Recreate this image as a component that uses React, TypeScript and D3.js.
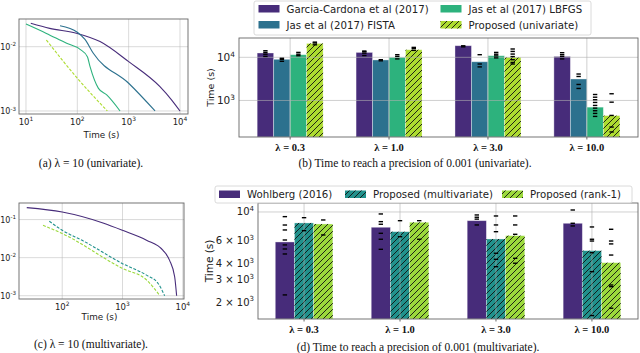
import React, { useEffect, useRef } from 'react';
import * as d3 from 'd3';

// (a) univariate convergence, lambda = 10  [time (s), objective gap]
const uniGarciaCurve: [number, number][] = [[12.4, 0.0231], [29, 0.0193], [100, 0.0161], [277, 0.012], [1000, 0.00585], [4070, 0.00239], [6900, 0.00148], [10000, 0.001]];
const uniFistaCurve: [number, number][] = [[46, 0.0212], [100, 0.0168], [141, 0.013], [205, 0.0079], [1000, 0.0027], [3270, 0.001]];
const uniLbfgsCurve: [number, number][] = [[10, 0.0225], [25, 0.0161], [62, 0.0113], [113, 0.0091], [157, 0.007], [177, 0.0049], [258, 0.00225], [374, 0.00178], [680, 0.001]];
const uniProposedCurve: [number, number][] = [[25, 0.0127], [100, 0.00323], [385, 0.001]];

// (c) multivariate convergence, lambda = 10
const multiWohlbergCurve: [number, number][] = [[25.8, 0.206], [100, 0.158], [475, 0.0815], [1000, 0.0524], [2500, 0.0288], [4700, 0.0155], [6040, 0.0085], [7330, 0.00315], [7900, 0.001]];
const multiProposedCurve: [number, number][] = [[61, 0.0902], [100, 0.0524], [224, 0.0274], [1000, 0.00696], [2500, 0.00347], [3900, 0.0021], [5000, 0.001]];
const multiRank1Curve: [number, number][] = [[48, 0.0709], [100, 0.043], [1000, 0.0052], [2500, 0.0026], [4170, 0.001]];

// bar charts
const lambdas = ['λ = 0.3', 'λ = 1.0', 'λ = 3.0', 'λ = 10.0'];

// (b) univariate, time to reach 0.001
const uniGarcia = [12600, 13000, 18600, 10500];
const uniFista = [9000, 8700, 7900, 3150];
const uniLbfgs = [11500, 10000, 10900, 700];
const uniProposed = [21000, 15000, 10000, 445];
const uniGarciaRuns = [[10500, 11800, 13000, 14200], [11000, 12500, 13500, 14000], [17500, 18500], [9200, 10500, 11500, 12800]];
const uniFistaRuns = [[8100, 9000, 9500], [8300, 8800], [11500, 7000, 6000], [4100, 3600, 2350, 1900]];
const uniLbfgsRuns = [[10900, 11800, 13000], [9200, 10500, 11500], [9700, 10800, 11800, 13000], [1375, 1190, 1040, 900, 767, 664, 578, 501, 427]];
const uniProposedRuns = [[19500, 21500, 22500], [14500, 16000, 17000], [15600, 13700, 11900, 10400, 8800, 7600, 7000], [1430, 913, 450, 242, 186]];

// (d) multivariate, time to reach 0.001
const multiWohlberg = [5850, 7610, 8560, 8170];
const multiProposed = [8220, 7030, 6170, 5010];
const multiRank1 = [8070, 8320, 6550, 4040];
const multiWohlbergRuns = [[9200, 7920, 7250, 6060, 5550, 5160, 4720, 2270], [9650, 8410, 8030, 6830, 6140, 5130], [9480, 9100, 8800, 7930], [10360, 8170, 7790]];
const multiProposedRuns = [[9030, 7160], [8560, 6430], [9310, 7930, 7030, 4780, 4290, 3760], [7650, 6140, 5950, 4830, 3440, 1570]];
const multiRank1Runs = [[8670, 6630], [8560, 6140], [9310, 7930, 6710, 4370, 4000], [7340, 5950, 5650, 4630, 2710, 2630, 1790]];

const PURPLE = '#472c7a';
const TEAL = '#2c718e';
const GREEN = '#2db27d';
const LIME = '#addc30';
const TEAL2 = '#21918c';
const LIME2 = '#9bd93c';

const SANS = 'DejaVu Sans';
const SERIF = 'Liberation Serif';
const FRAME = '#666';
const GRID = '#b0b0b0';

type Sel = d3.Selection<SVGGElement, unknown, null, undefined>;

// "10" with a superscript, optionally prefixed ("6 × 10^3")
function powLabel(g: Sel, x: number, y: number, pre: string, exp: string, size: number, anchor: string) {
  const t = g.append('text').attr('x', x).attr('y', y).attr('text-anchor', anchor)
    .attr('font-family', SANS).attr('font-size', size).attr('fill', '#222');
  t.append('tspan').text(pre + '10');
  t.append('tspan').attr('dy', -size * 0.42).attr('font-size', size * 0.7).text(exp);
}

export default function App() {
  const ref = useRef<SVGSVGElement>(null);

  useEffect(() => {
    const svg = d3.select(ref.current);
    svg.selectAll('*').remove();

    const defs = svg.append('defs');
    const hatch = defs.append('pattern').attr('id', 'hatch').attr('patternUnits', 'userSpaceOnUse')
      .attr('width', 6).attr('height', 6);
    hatch.append('path').attr('d', 'M-1,1 l2,-2 M0,6 l6,-6 M5,7 l2,-2')
      .attr('stroke', '#111').attr('stroke-width', 0.9);

    // ---------- line panels ----------
    function linePanel(id: string, box: number[], xDom: number[], yDom: number[], xTicks: number[], yTicks: number[],
      series: { pts: [number, number][], color: string, dash: boolean }[], labelY: number) {
      const [x0, y0, x1, y1] = box;
      const g = svg.append('g') as unknown as Sel;
      const x = d3.scaleLog().domain(xDom).range([x0, x1]);
      const y = d3.scaleLog().domain(yDom).range([y1, y0]);
      defs.append('clipPath').attr('id', id).append('rect').attr('x', x0).attr('y', y0).attr('width', x1 - x0).attr('height', y1 - y0);

      g.selectAll('.gx').data(xTicks).enter().append('line')
        .attr('x1', d => x(d)).attr('x2', d => x(d)).attr('y1', y0).attr('y2', y1)
        .attr('stroke', GRID).attr('stroke-opacity', 0.6).attr('stroke-width', 0.8);
      g.selectAll('.gy').data(yTicks).enter().append('line')
        .attr('y1', d => y(d)).attr('y2', d => y(d)).attr('x1', x0).attr('x2', x1)
        .attr('stroke', GRID).attr('stroke-opacity', 0.6).attr('stroke-width', 0.8);

      const line = d3.line<[number, number]>().x(d => x(d[0])).y(d => y(d[1])).curve(d3.curveMonotoneX);
      series.forEach(s => {
        g.append('path').attr('d', line(s.pts)!).attr('fill', 'none').attr('stroke', s.color)
          .attr('stroke-width', 1.1).attr('stroke-dasharray', s.dash ? '3,1.6' : null)
          .attr('clip-path', `url(#${id})`);
      });

      g.append('rect').attr('x', x0).attr('y', y0).attr('width', x1 - x0).attr('height', y1 - y0)
        .attr('fill', 'none').attr('stroke', FRAME).attr('stroke-width', 0.9);

      xTicks.forEach(t => powLabel(g, x(t), y1 + 11, '', String(Math.round(Math.log10(t))), 8.5, 'middle'));
      yTicks.forEach(t => powLabel(g, 16, y(t) + 3, '', String(Math.round(Math.log10(t))), 8, 'end'));
      g.append('text').attr('x', (x0 + x1) / 2 - 2).attr('y', labelY).attr('text-anchor', 'middle')
        .attr('font-family', SANS).attr('font-size', 8.8).attr('fill', '#222').text('Time (s)');
    }

    linePanel('clipA', [19, 19, 188, 114], [Math.pow(10, 0.864), Math.pow(10, 4.156)], [Math.pow(10, -3.047), Math.pow(10, -1.569)],
      [10, 100, 1000, 10000], [0.01, 0.001], [
        { pts: uniGarciaCurve, color: PURPLE, dash: false },
        { pts: uniFistaCurve, color: TEAL, dash: false },
        { pts: uniLbfgsCurve, color: GREEN, dash: false },
        { pts: uniProposedCurve, color: LIME, dash: true },
      ], 138);

    linePanel('clipC', [19, 203, 184, 299], [Math.pow(10, 1.283), Math.pow(10, 4.02)], [Math.pow(10, -3.086), Math.pow(10, -0.565)],
      [100, 1000, 10000], [0.1, 0.01, 0.001], [
        { pts: multiWohlbergCurve, color: PURPLE, dash: false },
        { pts: multiProposedCurve, color: TEAL2, dash: true },
        { pts: multiRank1Curve, color: LIME2, dash: true },
      ], 320);

    // ---------- bar panels ----------
    function barPanel(id: string, box: number[], xDom: number[], yDom: number[], bw: number,
      series: { vals: number[], runs: number[][], color: string, hatched: boolean }[],
      yTicks: { v: number, pre: string, exp: string }[], gridY: number[], tickSize: number, ylab: { x: number, size: number }, catY: number) {
      const [x0, y0, x1, y1] = box;
      const g = svg.append('g') as unknown as Sel;
      const x = d3.scaleLinear().domain(xDom).range([x0, x1]);
      const y = d3.scaleLog().domain(yDom).range([y1, y0]);
      defs.append('clipPath').attr('id', id).append('rect').attr('x', x0).attr('y', y0).attr('width', x1 - x0).attr('height', y1 - y0);
      const inner = g.append('g').attr('clip-path', `url(#${id})`);
      const n = series.length;

      series.forEach((s, si) => {
        const off = (si - (n - 1) / 2) * bw;
        s.vals.forEach((v, i) => {
          const left = x(i + off - bw / 2), right = x(i + off + bw / 2);
          inner.append('rect').attr('x', left).attr('y', y(v)).attr('width', right - left).attr('height', y1 - y(v))
            .attr('fill', s.color).attr('stroke', 'rgba(255,255,255,0.45)').attr('stroke-width', 0.8);
          if (s.hatched) {
            inner.append('rect').attr('x', left).attr('y', y(v)).attr('width', right - left).attr('height', y1 - y(v))
              .attr('fill', 'url(#hatch)');
          }
        });
      });

      // grid on top of the bars
      inner.selectAll('.gx').data(lambdas).enter().append('line')
        .attr('x1', (_, i) => x(i)).attr('x2', (_, i) => x(i)).attr('y1', y0).attr('y2', y1)
        .attr('stroke', GRID).attr('stroke-opacity', 0.6).attr('stroke-width', 1);
      inner.selectAll('.gy').data(gridY).enter().append('line')
        .attr('y1', d => y(d)).attr('y2', d => y(d)).attr('x1', x0).attr('x2', x1)
        .attr('stroke', GRID).attr('stroke-opacity', 0.6).attr('stroke-width', 1);

      // individual runs as short dashes
      series.forEach((s, si) => {
        const off = (si - (n - 1) / 2) * bw;
        s.runs.forEach((rs, i) => {
          const cx = x(i + off);
          rs.forEach(r => {
            inner.append('line').attr('x1', cx - 2.2).attr('x2', cx + 2.2).attr('y1', y(r)).attr('y2', y(r))
              .attr('stroke', '#000').attr('stroke-width', 1.4);
          });
        });
      });

      g.append('rect').attr('x', x0).attr('y', y0).attr('width', x1 - x0).attr('height', y1 - y0)
        .attr('fill', 'none').attr('stroke', FRAME).attr('stroke-width', 0.9);

      lambdas.forEach((c, i) => {
        g.append('line').attr('x1', x(i)).attr('x2', x(i)).attr('y1', y1).attr('y2', y1 + 2.5).attr('stroke', FRAME);
        g.append('text').attr('x', x(i)).attr('y', catY).attr('text-anchor', 'middle')
          .attr('font-family', SERIF).attr('font-weight', 'bold').attr('font-size', 10.5).attr('fill', '#111').text(c);
      });
      yTicks.forEach(t => powLabel(g, x0 - 4, y(t.v) + tickSize * 0.35, t.pre, t.exp, tickSize, 'end'));

      g.append('text').attr('transform', `translate(${ylab.x},${(y0 + y1) / 2}) rotate(-90)`)
        .attr('text-anchor', 'middle').attr('font-family', SANS).attr('font-size', ylab.size).attr('fill', '#222').text('Time (s)');
    }

    barPanel('clipB', [239, 38, 638, 137], [-0.517, 3.517], [Math.pow(10, 2.153), Math.pow(10, 4.448)], 1 / 6, [
      { vals: uniGarcia, runs: uniGarciaRuns, color: PURPLE, hatched: false },
      { vals: uniFista, runs: uniFistaRuns, color: TEAL, hatched: false },
      { vals: uniLbfgs, runs: uniLbfgsRuns, color: GREEN, hatched: false },
      { vals: uniProposed, runs: uniProposedRuns, color: LIME, hatched: true },
    ], [{ v: 10000, pre: '', exp: '4' }, { v: 1000, pre: '', exp: '3' }], [1000, 10000], 10.5, { x: 214, size: 9.5 }, 151);

    barPanel('clipD', [258, 203, 638, 319], [-0.48, 3.48], [1476, 11740], 0.2, [
      { vals: multiWohlberg, runs: multiWohlbergRuns, color: PURPLE, hatched: false },
      { vals: multiProposed, runs: multiProposedRuns, color: TEAL2, hatched: true },
      { vals: multiRank1, runs: multiRank1Runs, color: LIME2, hatched: true },
    ], [
      { v: 10000, pre: '', exp: '4' }, { v: 6000, pre: '6 × ', exp: '3' }, { v: 4000, pre: '4 × ', exp: '3' },
      { v: 3000, pre: '3 × ', exp: '3' }, { v: 2000, pre: '2 × ', exp: '3' },
    ], [10000], 10, { x: 213, size: 10.5 }, 333);

    // ---------- legends ----------
    function legend(box: number[], items: { label: string, color: string, hatched: boolean, x: number, y: number }[]) {
      svg.append('rect').attr('x', box[0]).attr('y', box[1]).attr('width', box[2]).attr('height', box[3]).attr('rx', 2)
        .attr('fill', 'white').attr('fill-opacity', 0.8).attr('stroke', '#d0d0d0').attr('stroke-width', 0.8);
      items.forEach(it => {
        svg.append('rect').attr('x', it.x).attr('y', it.y - 4).attr('width', 21).attr('height', 7.5).attr('fill', it.color);
        if (it.hatched) svg.append('rect').attr('x', it.x).attr('y', it.y - 4).attr('width', 21).attr('height', 7.5).attr('fill', 'url(#hatch)');
        svg.append('text').attr('x', it.x + 28).attr('y', it.y + 3.6).attr('font-family', SANS).attr('font-size', 10.2)
          .attr('fill', '#222').text(it.label);
      });
    }
    legend([254, 1, 337, 34], [
      { label: 'Garcia-Cardona et al (2017)', color: PURPLE, hatched: false, x: 258.5, y: 9 },
      { label: 'Jas et al (2017) FISTA', color: TEAL, hatched: false, x: 258.5, y: 25 },
      { label: 'Jas et al (2017) LBFGS', color: GREEN, hatched: false, x: 440.5, y: 9 },
      { label: 'Proposed (univariate)', color: LIME, hatched: true, x: 440.5, y: 25 },
    ]);
    legend([215, 186, 417, 17], [
      { label: 'Wohlberg (2016)', color: PURPLE, hatched: false, x: 219, y: 194.5 },
      { label: 'Proposed (multivariate)', color: TEAL2, hatched: true, x: 345, y: 194.5 },
      { label: 'Proposed (rank-1)', color: LIME2, hatched: true, x: 502, y: 194.5 },
    ]);

    // ---------- captions ----------
    const captions: [string, number, number][] = [
      ['(a)  λ = 10 (univariate).', 91, 167],
      ['(b)  Time to reach a precision of 0.001 (univariate).', 415, 167],
      ['(c)  λ = 10 (multivariate).', 91, 348],
      ['(d)  Time to reach a precision of 0.001 (multivariate).', 418, 351],
    ];
    captions.forEach(([t, cx, cy]) => {
      svg.append('text').attr('x', cx).attr('y', cy).attr('text-anchor', 'middle').attr('font-family', SERIF)
        .attr('font-size', 11.5).attr('fill', '#111').text(t);
    });
  }, []);

  return <svg ref={ref} width={640} height={353} style={{ position: 'absolute', left: 0, top: 0, background: 'white' }} />;
}
